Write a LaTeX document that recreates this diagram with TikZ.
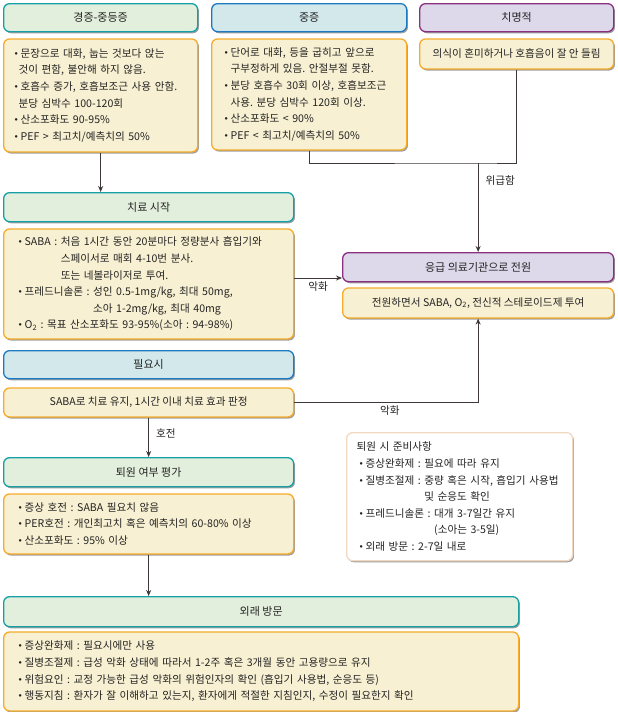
\documentclass[tikz,border=0pt]{standalone}
\usepackage{fontspec}
\setmainfont{Noto Sans CJK KR}
\usetikzlibrary{positioning, arrows.meta, shadows}

\definecolor{tealline}{RGB}{22,160,166}
\definecolor{tealfill}{RGB}{227,239,221}
\definecolor{blueline}{RGB}{30,122,192}
\definecolor{bluefill}{RGB}{211,232,235}
\definecolor{purpline}{RGB}{138,48,128}
\definecolor{purpfill}{RGB}{221,217,235}
\definecolor{orangeline}{RGB}{246,172,42}
\definecolor{creamfill}{RGB}{248,240,210}
\definecolor{peachline}{RGB}{242,216,192}
\definecolor{wireline}{RGB}{62,56,56}
\definecolor{inktext}{RGB}{35,35,35}

\frenchspacing
\newcommand{\bul}{\makebox[6pt][l]{\raisebox{.35ex}{\scalebox{.6}{$\bullet$}}}}

\tikzset{
  box/.style={rounded corners=6pt, line width=1.3pt, inner sep=0pt, text=inktext,
    drop shadow={shadow xshift=1.3pt, shadow yshift=-1.6pt, fill=black!38, opacity=1}},
  hdr/.style={box, minimum height=28pt, font=\fontsize{11}{13}\selectfont},
  hdrgreen/.style={hdr, draw=tealline, fill=tealfill},
  hdrblue/.style={hdr, draw=blueline, fill=bluefill},
  hdrpurple/.style={hdr, draw=purpline, fill=purpfill},
  txtbox/.style={box, draw=orangeline, fill=creamfill, font=\fontsize{10.6}{16.6}\selectfont},
  wire/.style={draw=wireline, line width=.9pt},
  lbl/.style={font=\fontsize{10.6}{12}\selectfont, text=inktext, inner sep=3pt}
}

\begin{document}
\begin{tikzpicture}[x=1pt, y=1pt, >={Stealth[length=6pt, width=5pt]}]
  \useasboundingbox (0,0) rectangle (618,-712);

  % top row
  \node[hdrgreen, minimum width=194pt, anchor=north west] (mild) at (3,-3) {경증-중등증};
  \node[txtbox, below=6pt of mild, minimum height=113pt, inner xsep=11pt, text width=172pt, align=left] (mildtxt) {%
    \bul 문장으로 대화, 눕는 것보다 앉는\\
    \hspace{4pt}것이 편함, 불안해 하지 않음.\\
    \bul 호흡수 증가, 호흡보조근 사용 안함.\\
    \hspace{4pt}분당 심박수 100-120회\\
    \bul 산소포화도 90-95\%\\
    \bul PEF > 최고치/예측치의 50\%};

  \node[hdrblue, minimum width=195pt, anchor=north west] (sev) at (211,-3) {중증};
  \node[txtbox, below=6pt of sev, minimum height=111pt, inner xsep=13pt, text width=169pt, align=left] (sevtxt) {%
    \bul 단어로 대화, 등을 굽히고 앞으로\\
    \phantom{\bul}구부정하게 있음. 안절부절 못함.\\
    \bul 분당 호흡수 30회 이상, 호흡보조근\\
    \phantom{\bul}사용. 분당 심박수 120회 이상.\\
    \bul 산소포화도 < 90\%\\
    \bul PEF < 최고치/예측치의 50\%};

  \node[hdrpurple, minimum width=194pt, anchor=north west] (fatal) at (419,-3) {치명적};
  \node[txtbox, below=6pt of fatal, minimum width=194pt, minimum height=30pt] (fataltxt) {의식이 혼미하거나 호흡음이 잘 안 들림};

  % treatment
  \node[hdrgreen, minimum width=290pt, minimum height=29pt, anchor=north west] (treat) at (3,-192) {치료 시작};
  \node[txtbox, below=6pt of treat, minimum height=110pt, inner xsep=15pt, text width=260pt, align=left] (treattxt) {%
    \bul SABA : 처음 1시간 동안 20분마다 정량분사 흡입기와\\
    \phantom{\bul SABA : }스페이서로 매회 4-10번 분사.\\
    \phantom{\bul SABA : }또는 네볼라이저로 투여.\\
    \bul 프레드니솔론 : 성인 0.5-1mg/kg, 최대 50mg,\\
    \phantom{\bul 프레드니솔론 : }소아 1-2mg/kg, 최대 40mg\\
    \bul O\textsubscript{2} : 목표 산소포화도 93-95\%(소아 : 94-98\%)};

  \node[hdrpurple, minimum width=271pt, minimum height=29pt, anchor=north west] (emerg) at (342,-252) {응급 의료기관으로 전원};
  \node[txtbox, below=5pt of emerg, minimum width=271pt, minimum height=30pt] (emergtxt) {전원하면서 SABA, O\textsubscript{2}, 전신적 스테로이드제 투여};

  \node[hdrblue, minimum width=290pt, anchor=north west] (need) at (3,-350) {필요시};
  \node[txtbox, below=8pt of need, minimum width=290pt, minimum height=29pt] (needtxt) {SABA로 치료 유지, 1시간 이내 치료 효과 판정};

  % discharge
  \node[hdrgreen, minimum width=290pt, minimum height=29pt, anchor=north west] (disch) at (3,-457) {퇴원 여부 평가};
  \node[txtbox, below=6pt of disch, minimum height=60pt, inner xsep=15pt, text width=260pt, align=left] (dischtxt) {%
    \bul 증상 호전 : SABA 필요치 않음\\
    \bul PER호전 : 개인최고치 혹은 예측치의 60-80\% 이상\\
    \bul 산소포화도 : 95\% 이상};

  \node[box, draw=peachline, fill=white, minimum height=128pt, inner xsep=10pt, text width=206pt,
        align=left, font=\fontsize{10.6}{16.6}\selectfont, anchor=north west] (prep) at (346,-432) {%
    퇴원 시 준비사항\\
    \hspace{3pt}\bul 증상완화제 : 필요에 따라 유지\\
    \hspace{3pt}\bul 질병조절제 : 중량 혹은 시작, 흡입기 사용법\\
    \hspace{3pt}\phantom{\bul 질병조절제 : }및 순응도 확인\\
    \hspace{3pt}\bul 프레드니솔론 : 대개 3-7일간 유지\\
    \hspace{3pt}\phantom{\bul 프레드니솔론 : }(소아는 3-5일)\\
    \hspace{3pt}\bul 외래 방문 : 2-7일 내로};

  \node[hdrgreen, minimum width=515pt, minimum height=30pt, anchor=north west] (visit) at (3,-596) {외래 방문};
  \node[txtbox, below=4pt of visit, minimum height=79pt, inner xsep=15pt, text width=485pt, align=left] (visittxt) {%
    \bul 증상완화제 : 필요시에만 사용\\
    \bul 질병조절제 : 급성 악화 상태에 따라서 1-2주 혹은 3개월 동안 고용량으로 유지\\
    \bul 위험요인 : 교정 가능한 급성 악화의 위험인자의 확인 (흡입기 사용법, 순응도 등)\\
    \bul 행동지침 : 환자가 잘 이해하고 있는지, 환자에게 적절한 지침인지, 수정이 필요한지 확인};

  % connectors
  \coordinate (join) at (emerg.north |- 0,-163);
  \coordinate (worse) at (0,-278);
  \draw[wire, ->] (mildtxt.south) -- (mildtxt.south |- treat.north);
  \draw[wire] (sevtxt.south) |- (join) -| (fataltxt.south);
  \draw[wire, ->] (join) -- (emerg.north) node[lbl, pos=.2, right=4pt] {위급함};
  \draw[wire, ->] (treattxt.east |- worse) -- (emerg.west |- worse) node[lbl, pos=.5, below] {악화};
  \draw[wire, ->] (needtxt.east) -| (emergtxt.south) node[lbl, pos=.26, below] {악화};
  \draw[wire, ->] (needtxt.south) -- (disch.north) node[lbl, pos=.4, right=4pt] {호전};
  \draw[wire, ->] (dischtxt.south) -- (dischtxt.south |- visit.north);
\end{tikzpicture}
\end{document}
